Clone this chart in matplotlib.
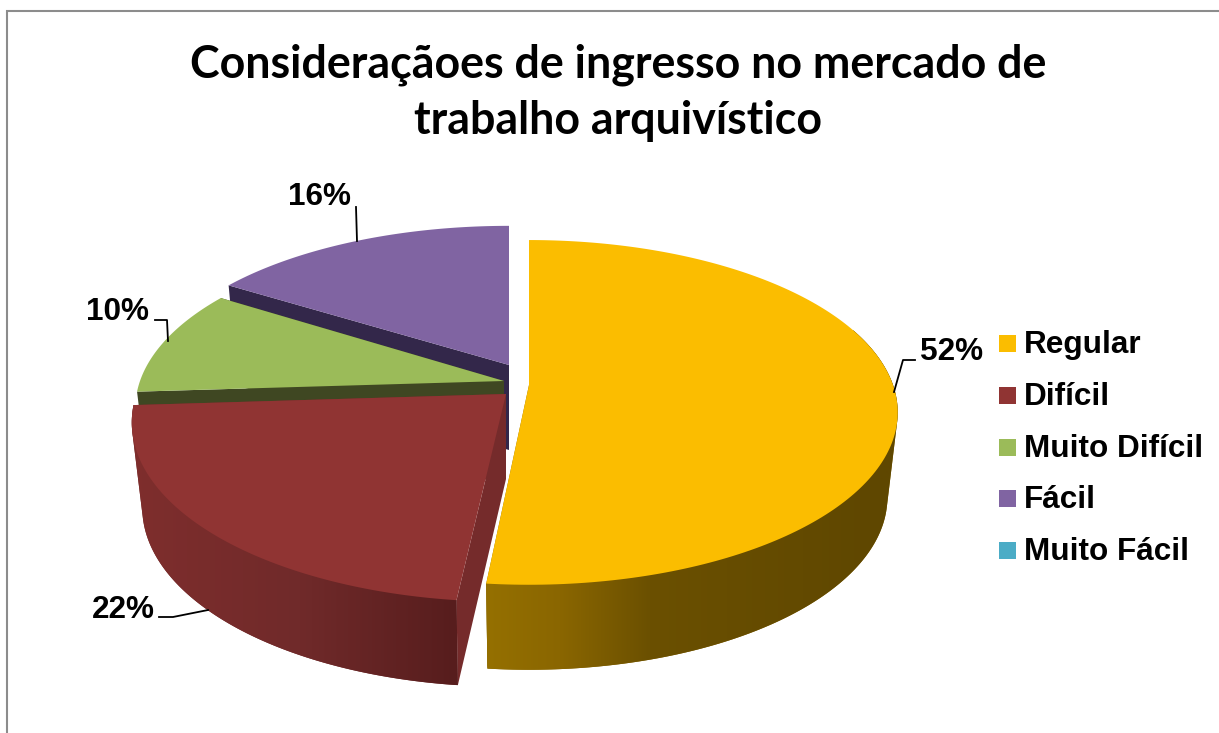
"""Exploded 3D pie of job market entry opinions, drawn on a pixel canvas."""

import matplotlib

matplotlib.use("Agg")
import matplotlib.pyplot as plt
import numpy as np

WIDTH, HEIGHT = 1219, 733

TITLE = "Consideraçãoes de ingresso no mercado de\ntrabalho arquivístico"
categories = ["Regular", "Difícil", "Muito Difícil", "Fácil", "Muito Fácil"]
shares = [51.8, 22.2, 10.0, 16.0, 0.0]
colors = ["#FBBD00", "#903433", "#9BBB59", "#8064A2", "#4BACC6"]

# projection of the pie disc
RX, RY, PERSP, DEPTH, TAPER = 364.0, 168.0, 0.159, 85.0, 0.972
tips = [(529, 385), (506, 394), (504, 381), (509, 365)]
scales = [(1.0, 1.0), (1.015, 1.04), (1.0, 1.0), (0.99, 0.96)]
end_nudge = [-0.8, 0.0, 0.0, 0.0]
face_colors = ["#8a6600", "#752b2b", "#3f4722", "#33274a"]
wall_start = [70, None, None, None]
side_x = [[486, 560, 650, 880], [130, 300, 456]]
side_rgb = [
    ["#957000", "#8a6600", "#6b5000", "#5f4700"],
    ["#7f2e2d", "#702a2a", "#571d1d"],
]

# label text anchor (centre) and leader line per slice
label_pos = [(952, 352), (123, 610), (118, 312), (320, 197)]
leaders = [
    [(894, 392), (903, 360), (915, 360)],
    [(208, 610), (173, 617), (159, 617)],
    [(168, 341), (167, 320), (155, 320)],
    [(357, 241), (356, 207)],
]
legend_y = [343.5, 395, 447, 498, 550]
legend_text_dy = 2


def project(tip, scale, t):
    u, v = np.sin(t), np.cos(t)
    w = 1 + PERSP * v
    x = tip[0] + scale[0] * RX * u / w
    y = tip[1] - scale[1] * RY * v / w
    return x, y


def drop(tip, x, y):
    """Bottom rim point under a top rim point, the rim narrows going down."""
    return tip[0] + (x - tip[0]) * TAPER, y + DEPTH


def convex_hull(points):
    points = sorted(set(map(tuple, points)))

    def half(seq):
        out = []
        for p in seq:
            while len(out) > 1:
                (ax_, ay_), (bx_, by_) = out[-2], out[-1]
                if (bx_ - ax_) * (p[1] - ay_) - (by_ - ay_) * (p[0] - ax_) > 0:
                    break
                out.pop()
            out.append(p)
        return out[:-1]

    return np.array(half(points) + half(points[::-1]))


def draw_wall(ax, i, start, end, zorder):
    tip, scale = tips[i], scales[i]
    t = np.radians(np.linspace(start, end, 200))
    x, y = project(tip, scale, t)
    bx, by = drop(tip, x, y)
    # the hull adds the tangent edges between top rim and bottom rim
    hull = convex_hull(np.c_[np.r_[x, bx], np.r_[y, by]])
    px, py = hull[:, 0], hull[:, 1]

    stops = np.array([matplotlib.colors.to_rgb(c) for c in side_rgb[i]])
    grid = np.arange(int(px.min()), int(px.max()) + 2)
    grad = np.stack([np.interp(grid, side_x[i], stops[:, k]) for k in range(3)], axis=-1)

    # flat polygon below keeps the outline antialiased, the gradient is clipped to it
    ax.fill(px, py, color=side_rgb[i][1], lw=0, zorder=zorder)
    im = ax.imshow(grad[None, :, :], extent=[grid[0], grid[-1], py.max(), py.min()],
                   aspect="auto", zorder=zorder + 0.1, interpolation="bilinear")
    im.set_clip_path(plt.Polygon(hull, closed=True, transform=ax.transData))


def draw_slice(ax, i, start, end, zorder):
    tip, scale = tips[i], scales[i]
    t = np.radians(np.linspace(start, end, 200))
    x, y = project(tip, scale, t)

    # radial faces first, so the outer wall and the top sit over them
    for k in (0, -1):
        bx, by = drop(tip, x[k], y[k])
        ax.fill([tip[0], x[k], bx, tip[0]], [tip[1], y[k], by, tip[1] + DEPTH],
                color=face_colors[i], lw=0, zorder=zorder)
    if i < len(side_x):
        draw_wall(ax, i, wall_start[i] if wall_start[i] is not None else start, end, zorder + 1)
    ax.fill(np.r_[tip[0], x], np.r_[tip[1], y], color=colors[i], lw=0, zorder=zorder + 2)


fig = plt.figure(figsize=(WIDTH / 100, HEIGHT / 100), dpi=100)
ax = fig.add_axes([0, 0, 1, 1])

# chart frame, only top and left are in the crop
ax.plot([7, 7, WIDTH], [HEIGHT, 11, 11], color="#8c8c8c", lw=1.5, solid_joinstyle="miter")

ax.text(618, 93, TITLE, family="Lato", weight="bold", fontsize=32.2,
        ha="center", va="center", linespacing=1.42, color="black")

edges = np.cumsum([0] + shares) * 3.6
for z, i in enumerate([3, 2, 1, 0]):
    draw_slice(ax, i, edges[i], edges[i + 1] + end_nudge[i], 2 + z * 3)

for i, share in enumerate(shares[:4]):
    ax.text(*label_pos[i], f"{round(share)}%", family="Liberation Sans", weight="bold",
            fontsize=22.7, ha="center", va="center", color="black", zorder=20)
    xs, ys = zip(*leaders[i])
    ax.plot(xs, ys, color="black", lw=1.3, zorder=20)

for name, col, y in zip(categories, colors, legend_y):
    ax.add_patch(plt.Rectangle((999, y - 8.5), 17, 17, color=col, lw=0))
    ax.text(1024, y + legend_text_dy, name, family="Liberation Sans", weight="bold",
            fontsize=22.7, ha="left", va="center", color="black")

ax.set_xlim(0, WIDTH)
ax.set_ylim(HEIGHT, 0)
ax.axis("off")

fig.savefig("out.png", dpi=100)
